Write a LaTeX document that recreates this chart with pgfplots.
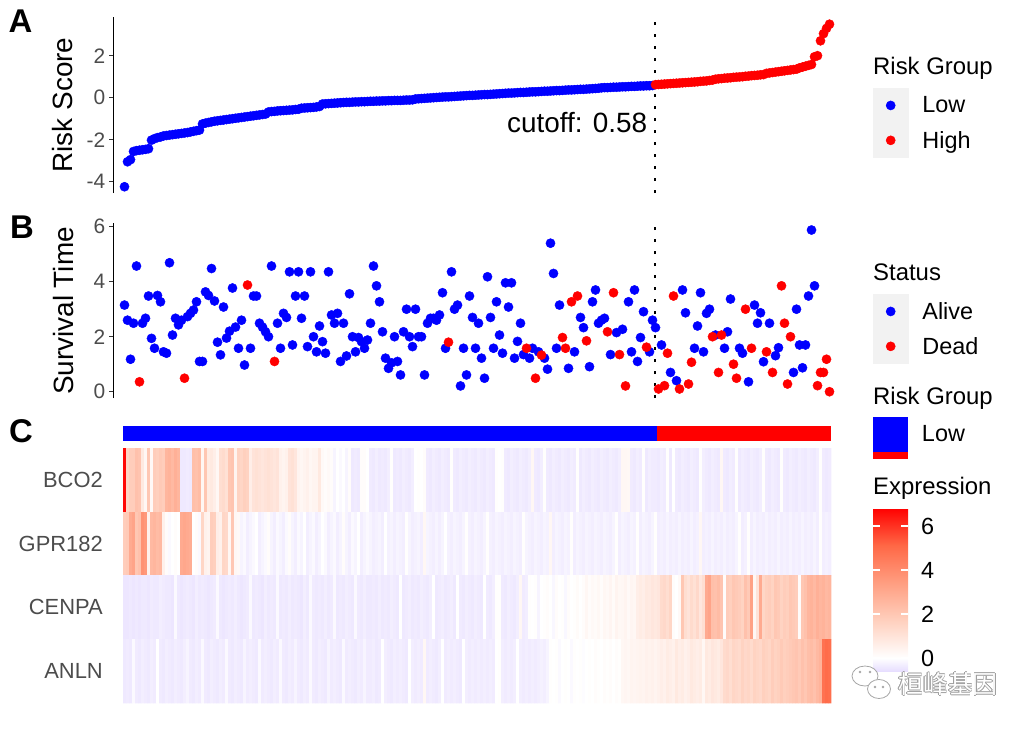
\documentclass[border=0pt]{standalone}
\usepackage{pgfplots}
\pgfplotsset{compat=1.18}
\usepackage{pgfplotstable}
\usepackage{fontspec}
\setmainfont{Liberation Sans}
\newfontfamily\cjk{Noto Sans CJK SC}

\definecolor{axtxt}{gray}{0.3}
\definecolor{tickc}{gray}{0.2}
\definecolor{keybg}{gray}{0.949}

\newcommand{\fTitle}{\fontsize{28}{32}\selectfont}
\newcommand{\fTick}{\fontsize{21}{24}\selectfont}
\newcommand{\fLeg}{\fontsize{23.5}{27}\selectfont}
\newcommand{\fLegT}{\fontsize{24}{28}\selectfont}
\newcommand{\fGene}{\fontsize{22}{26}\selectfont}
\newcommand{\fPanel}{\fontsize{33}{36}\selectfont\bfseries}

\pgfplotsset{colormap={expr}{rgb255(0pt)=(231,222,255) rgb255(59pt)=(255,255,255) rgb255(229.5pt)=(255,208,190) rgb255(400pt)=(255,158,129) rgb255(570.5pt)=(255,104,70) rgb255(741pt)=(255,0,0)}}

\pgfplotsset{
 panel/.style={scale only axis, width=727bp, xmin=-2.667, xmax=239.667,
   axis x line=none, axis y line*=left, xtick=\empty,
   y axis line style={black, line width=1.1bp},
   tick align=outside, major tick length=4.5bp,
   ytick style={tickc, line width=1.1bp},
   yticklabel style={font=\fTick, text=axtxt, inner sep=0pt, xshift=-3.5bp},
   clip=false, legend cell align=left,
   legend style={anchor=north west, draw=none, fill=none, inner sep=0pt, outer sep=0pt,
     row sep=0pt, column sep=14bp, font=\fLeg, nodes={inner sep=0pt}}},
 dotkey/.style={legend image code/.code={\fill[keybg] (0bp,-17.25bp) rectangle (35bp,17.25bp); \fill[#1] (17.5bp,0bp) circle (4.6bp);}},
 dots/.style={only marks, mark=*, mark size=4.6bp, color=#1, mark options={fill=#1, draw=#1}},
 hmrow/.style={scatter, only marks, mark=square*, mark size=1.55bp,
   scatter/use mapped color={draw=mapped color, fill=mapped color},
   mark options={yscale=20.6, line width=0.02pt}, point meta=explicit}
}

% Risk scores, sorted (rank 1..177 low, 178..236 high)
\pgfplotstableread[row sep=\\]{y\\-4.24\\-3.05\\-2.95\\-2.56\\-2.52\\-2.5\\-2.48\\-2.46\\-2.43\\-2.02\\-1.95\\-1.9\\-1.87\\-1.82\\-1.8\\-1.78\\-1.76\\-1.74\\-1.72\\-1.7\\-1.68\\-1.66\\-1.63\\-1.6\\-1.57\\-1.54\\-1.25\\-1.21\\-1.18\\-1.15\\-1.12\\-1.1\\-1.08\\-1.06\\-1.04\\-1.02\\-1.0\\-0.98\\-0.96\\-0.94\\-0.92\\-0.9\\-0.88\\-0.86\\-0.84\\-0.82\\-0.8\\-0.78\\-0.68\\-0.66\\-0.65\\-0.63\\-0.62\\-0.61\\-0.6\\-0.59\\-0.58\\-0.56\\-0.55\\-0.5\\-0.49\\-0.48\\-0.47\\-0.46\\-0.44\\-0.42\\-0.3\\-0.29\\-0.28\\-0.27\\-0.26\\-0.25\\-0.24\\-0.23\\-0.22\\-0.22\\-0.21\\-0.2\\-0.2\\-0.19\\-0.19\\-0.18\\-0.17\\-0.17\\-0.16\\-0.16\\-0.15\\-0.15\\-0.14\\-0.14\\-0.13\\-0.13\\-0.13\\-0.12\\-0.11\\-0.11\\-0.1\\-0.06\\-0.05\\-0.04\\-0.03\\-0.02\\-0.01\\0.0\\0.01\\0.02\\0.03\\0.04\\0.04\\0.05\\0.06\\0.07\\0.08\\0.09\\0.1\\0.11\\0.11\\0.12\\0.13\\0.14\\0.15\\0.15\\0.16\\0.17\\0.18\\0.19\\0.2\\0.21\\0.22\\0.22\\0.23\\0.24\\0.25\\0.25\\0.26\\0.27\\0.28\\0.28\\0.29\\0.3\\0.31\\0.31\\0.32\\0.33\\0.34\\0.34\\0.35\\0.36\\0.37\\0.37\\0.38\\0.39\\0.4\\0.4\\0.41\\0.42\\0.43\\0.44\\0.45\\0.47\\0.48\\0.48\\0.49\\0.5\\0.5\\0.51\\0.52\\0.52\\0.53\\0.54\\0.54\\0.55\\0.56\\0.56\\0.57\\0.57\\0.58\\}\riskLow
\pgfplotstableread[row sep=\\]{y\\0.62\\0.63\\0.64\\0.65\\0.66\\0.67\\0.68\\0.69\\0.7\\0.71\\0.72\\0.73\\0.74\\0.75\\0.76\\0.78\\0.79\\0.8\\0.82\\0.84\\0.88\\0.9\\0.91\\0.93\\0.94\\0.95\\0.97\\0.98\\0.99\\1.0\\1.02\\1.03\\1.05\\1.06\\1.07\\1.09\\1.1\\1.16\\1.18\\1.2\\1.22\\1.24\\1.26\\1.28\\1.3\\1.32\\1.34\\1.36\\1.42\\1.46\\1.5\\1.54\\1.58\\1.95\\2.0\\2.71\\3.05\\3.3\\3.5\\}\riskHigh

% Survival time by rank
\pgfplotstableread[row sep=\\]{i t\\1 3.15\\2 2.6\\3 1.18\\4 2.49\\5 4.57\\7 2.49\\8 2.67\\9 3.48\\10 1.94\\11 1.58\\12 3.5\\13 3.27\\14 1.45\\15 1.4\\16 4.69\\17 2.06\\18 2.67\\19 2.43\\20 2.6\\22 2.73\\23 2.85\\24 2.97\\25 3.27\\26 1.1\\27 1.1\\28 3.63\\29 3.5\\30 4.48\\31 3.3\\32 1.8\\33 1.34\\34 3.08\\35 1.95\\36 2.2\\37 3.77\\38 2.35\\39 1.58\\40 2.6\\41 0.97\\43 1.58\\44 3.48\\45 3.48\\46 2.49\\47 2.35\\48 2.18\\49 2.0\\50 4.57\\52 2.49\\53 1.58\\54 2.85\\55 2.7\\56 4.36\\57 1.7\\58 3.48\\59 4.36\\60 2.67\\61 3.48\\62 1.64\\63 4.36\\64 2.0\\65 1.45\\66 2.39\\67 1.82\\68 1.4\\69 4.36\\70 2.79\\71 2.49\\72 2.85\\73 1.1\\74 2.49\\75 1.3\\76 3.56\\77 2.0\\78 1.45\\79 1.97\\80 1.82\\81 1.58\\82 1.88\\83 2.49\\84 4.57\\85 3.85\\86 3.27\\87 2.18\\88 1.22\\89 0.85\\90 1.05\\91 2.0\\92 1.1\\93 0.61\\94 2.18\\95 3.0\\96 2.0\\97 1.64\\98 3.0\\99 2.0\\100 2.0\\101 0.61\\102 2.49\\103 2.67\\104 2.67\\105 2.6\\106 2.79\\107 3.6\\108 1.58\\110 4.36\\111 3.0\\112 3.15\\113 0.21\\114 1.58\\115 0.61\\116 3.48\\117 2.7\\118 1.58\\119 2.49\\120 1.22\\121 0.49\\122 4.18\\123 2.7\\124 1.58\\125 3.27\\126 2.06\\127 1.4\\128 3.96\\129 3.08\\130 3.96\\131 1.22\\132 1.83\\133 2.49\\134 1.35\\136 1.22\\137 1.58\\139 1.45\\141 1.22\\142 0.82\\143 5.4\\144 4.3\\145 1.58\\146 3.15\\149 0.85\\151 1.45\\153 2.7\\154 2.33\\156 0.91\\157 3.27\\158 3.7\\159 2.49\\160 2.6\\161 2.67\\163 1.35\\165 2.15\\167 2.27\\169 3.27\\170 1.45\\171 3.7\\172 1.1\\173 1.97\\174 2.91\\176 1.45\\177 2.6\\178 2.33\\180 1.7\\183 0.7\\185 0.4\\187 3.7\\188 2.87\\191 1.58\\192 2.39\\193 3.6\\194 1.45\\195 2.85\\196 3.0\\198 2.06\\201 1.58\\202 2.18\\203 3.37\\206 1.58\\207 1.4\\209 0.36\\211 3.15\\212 2.49\\213 2.87\\214 1.09\\216 2.49\\218 1.31\\219 1.6\\224 0.7\\225 3.0\\226 1.7\\227 0.87\\228 1.7\\229 3.48\\230 5.88\\231 3.85\\}\alive
\pgfplotstableread[row sep=\\]{i t\\6 0.36\\21 0.49\\42 3.88\\51 1.1\\109 1.8\\135 1.58\\138 0.49\\140 1.33\\147 1.97\\148 1.58\\150 3.27\\152 3.48\\155 1.85\\162 2.18\\164 3.6\\166 1.35\\168 0.21\\175 1.62\\179 0.1\\181 0.22\\182 1.4\\184 3.48\\186 0.1\\189 0.28\\190 1.07\\197 2.0\\199 0.7\\200 2.06\\204 1.0\\205 0.49\\208 3.0\\210 1.58\\215 1.45\\217 0.7\\220 3.85\\221 2.49\\222 0.28\\223 2.0\\232 0.22\\233 0.7\\234 0.7\\235 1.18\\236 0.0\\}\dead

% Expression by rank: b=BCO2 g=GPR182 c=CENPA a=ANLN
\pgfplotstableread{
i b g c a
1 6.7 1.8 -0.45 -0.4
2 1.5 1.9 -0.45 -0.35
3 1.8 3.0 -0.4 -0.4
4 1.8 3.2 -0.45 -0.1
5 2.2 2.0 -0.4 -0.35
6 2.1 2.2 -0.45 -0.4
7 0.8 3.8 -0.4 -0.3
8 0.3 3.6 -0.4 -0.35
9 2.0 0.5 -0.45 -0.4
10 0.2 2.5 -0.35 -0.3
11 1.8 2.6 -0.4 -0.35
12 1.7 2.4 -0.4 0.0
13 1.9 2.5 -0.3 -0.35
14 1.8 0.5 -0.35 -0.4
15 2.6 0.1 -0.4 -0.3
16 2.7 -0.1 -0.4 -0.35
17 2.5 0.0 -0.45 -0.4
18 2.8 0.1 -0.1 -0.3
19 2.6 0.0 -0.4 -0.35
20 -0.4 3.0 -0.45 -0.4
21 -0.4 3.1 -0.4 -0.3
22 -0.35 3.0 -0.35 -0.2
23 -0.4 2.9 -0.4 -0.35
24 2.3 0.0 -0.45 -0.4
25 2.2 0.1 -0.3 -0.3
26 2.4 -0.1 -0.4 -0.35
27 0.3 1.5 -0.35 -0.1
28 2.0 0.5 -0.4 -0.35
29 0.7 0.4 -0.45 -0.4
30 0.8 1.8 -0.4 -0.3
31 0.6 1.7 -0.35 -0.35
32 0.3 0.6 -0.1 -0.4
33 1.2 0.5 -0.4 -0.3
34 1.3 1.5 -0.45 -0.35
35 1.1 1.4 -0.4 -0.1
36 2.0 0.3 -0.35 -0.35
37 2.1 2.0 -0.4 -0.4
38 0.4 0.3 -0.3 -0.3
39 1.6 0.2 -0.4 -0.35
40 1.5 -0.2 -0.45 -0.4
41 1.7 -0.1 -0.4 -0.2
42 1.6 -0.3 -0.35 -0.35
43 0.6 -0.2 -0.1 -0.3
44 1.0 -0.1 -0.4 -0.35
45 1.1 0.0 -0.35 -0.4
46 1.0 -0.3 -0.4 -0.1
47 0.9 -0.2 -0.45 -0.35
48 1.0 -0.1 -0.3 -0.3
49 1.1 0.1 -0.4 -0.35
50 1.0 -0.2 -0.35 -0.4
51 0.9 -0.3 -0.4 -0.3
52 1.0 -0.1 -0.1 -0.35
53 0.5 -0.2 -0.4 -0.1
54 0.4 -0.3 -0.35 -0.35
55 0.5 -0.1 -0.4 -0.4
56 1.0 0.1 -0.3 -0.3
57 1.1 -0.2 -0.4 -0.35
58 0.9 -0.3 -0.35 -0.2
59 0.4 -0.1 -0.4 -0.35
60 0.3 -0.2 -0.45 -0.4
61 0.4 0.0 -0.3 -0.3
62 0.5 -0.3 -0.4 -0.35
63 0.3 -0.2 -0.1 -0.1
64 0.4 -0.1 -0.35 -0.35
65 0.4 -0.3 -0.4 -0.4
66 0.8 -0.2 -0.35 -0.3
67 0.2 0.0 -0.4 -0.35
68 0.1 -0.1 -0.3 -0.4
69 0.2 -0.3 -0.4 -0.2
70 0.1 -0.2 -0.35 -0.35
71 -0.2 -0.1 -0.1 -0.3
72 0.0 -0.3 -0.4 -0.35
73 -0.1 -0.2 -0.35 -0.4
74 0.0 0.1 -0.4 -0.1
75 -0.2 -0.2 -0.3 -0.35
76 0.1 -0.3 -0.35 -0.3
77 -0.4 -0.1 -0.4 -0.35
78 -0.35 -0.2 -0.1 -0.4
79 -0.4 0.0 -0.35 -0.3
80 0.1 -0.3 -0.4 -0.35
81 0.1 -0.2 -0.3 -0.2
82 0.0 -0.1 -0.4 -0.35
83 -0.35 -0.2 -0.4 -0.35
84 -0.4 -0.3 -0.35 -0.3
85 -0.3 -0.25 -0.4 -0.4
86 -0.4 -0.2 -0.3 -0.35
87 -0.35 -0.3 -0.4 0.0
88 -0.4 0.0 -0.35 -0.3
89 -0.3 -0.25 -0.4 -0.35
90 0.05 -0.2 -0.3 -0.4
91 -0.4 -0.3 -0.35 -0.3
92 -0.35 -0.2 -0.4 -0.35
93 -0.4 -0.25 0.0 -0.3
94 -0.3 -0.3 -0.4 -0.35
95 -0.35 0.05 -0.35 -0.4
96 -0.4 -0.2 -0.3 0.0
97 -0.3 -0.3 -0.4 -0.3
98 0.0 -0.25 -0.35 -0.35
99 0.05 -0.2 -0.4 -0.3
100 0.0 -0.3 -0.3 -0.35
101 0.1 0.3 -0.35 0.3
102 -0.35 -0.2 -0.4 -0.35
103 -0.4 -0.25 -0.3 -0.3
104 -0.3 -0.3 0.0 -0.35
105 -0.35 -0.2 -0.4 -0.4
106 -0.4 -0.3 -0.35 -0.3
107 -0.3 -0.2 -0.3 0.0
108 -0.35 0.0 -0.4 -0.35
109 -0.4 -0.25 -0.35 -0.3
110 0.05 -0.3 -0.3 -0.35
111 -0.35 -0.2 -0.4 -0.3
112 -0.4 -0.25 0.0 -0.35
113 -0.3 -0.3 -0.35 -0.4
114 -0.35 -0.2 -0.4 0.0
115 -0.4 0.05 -0.3 -0.3
116 -0.3 -0.25 -0.35 -0.35
117 -0.35 -0.3 -0.4 -0.3
118 -0.4 -0.2 -0.3 -0.35
119 -0.3 -0.25 -0.35 -0.3
120 -0.35 -0.3 -0.4 -0.35
121 -0.4 -0.2 0.0 -0.3
122 -0.3 0.05 -0.35 -0.35
123 -0.35 -0.25 -0.4 -0.3
124 -0.4 -0.3 -0.3 -0.35
125 0.05 -0.2 0.05 0.0
126 0.0 -0.25 0.05 0.05
127 0.05 -0.3 -0.35 -0.3
128 -0.35 -0.2 -0.4 -0.35
129 -0.4 -0.25 -0.3 -0.3
130 -0.3 -0.3 -0.35 -0.35
131 -0.35 -0.2 -0.4 -0.3
132 -0.4 -0.25 -0.3 0.0
133 -0.3 -0.3 0.3 -0.3
134 -0.35 0.05 -0.35 -0.35
135 -0.4 -0.2 -0.3 -0.3
136 -0.3 -0.25 0.05 -0.35
137 0.3 -0.3 0.0 -0.3
138 -0.35 -0.2 0.05 -0.35
139 -0.4 -0.25 -0.2 -0.3
140 -0.3 -0.3 0.0 -0.25
141 0.05 -0.2 0.05 -0.3
142 -0.35 -0.25 0.1 -0.2
143 -0.4 0.3 0.0 0.05
144 -0.3 -0.3 -0.15 0.0
145 -0.35 -0.2 0.1 0.05
146 -0.4 -0.25 0.0 -0.1
147 -0.3 -0.3 0.05 0.0
148 -0.35 -0.2 -0.15 0.05
149 -0.4 -0.25 0.1 0.0
150 -0.3 0.05 0.0 -0.1
151 -0.35 -0.3 0.05 0.05
152 0.05 -0.2 0.15 0.0
153 -0.4 -0.25 0.0 0.05
154 -0.3 -0.3 0.1 -0.05
155 -0.35 -0.2 0.3 0.0
156 -0.4 -0.25 0.1 0.05
157 -0.3 -0.3 0.2 0.0
158 -0.35 -0.2 0.15 0.1
159 -0.4 -0.25 0.25 0.05
160 -0.3 -0.3 0.1 0.0
161 -0.35 -0.2 0.3 0.1
162 -0.4 -0.25 0.2 0.05
163 -0.3 -0.3 0.35 0.1
164 -0.35 -0.2 0.15 0.0
165 -0.4 0.05 0.4 0.1
166 -0.3 -0.3 0.25 0.05
167 0.3 -0.2 0.3 0.3
168 0.3 -0.25 0.4 0.35
169 0.25 -0.3 0.2 0.3
170 -0.35 -0.2 0.35 0.4
171 -0.4 -0.25 0.3 0.35
172 -0.3 0.05 0.6 0.4
173 -0.35 -0.3 0.7 0.45
174 0.05 -0.2 0.6 0.4
175 -0.4 -0.25 0.8 0.5
176 -0.3 -0.3 0.75 0.45
177 -0.35 -0.2 0.9 0.5
178 -0.35 0.05 0.8 0.4
179 -0.4 -0.3 0.9 0.5
180 -0.3 -0.25 1.3 0.6
181 -0.35 -0.3 1.4 0.5
182 0.05 -0.2 1.2 0.7
183 -0.4 -0.3 1.5 0.6
184 0.0 -0.25 0.1 0.5
185 -0.35 -0.3 0.0 0.8
186 -0.4 -0.2 0.2 0.6
187 -0.3 -0.3 2.0 0.7
188 -0.35 -0.25 1.2 0.5
189 -0.4 -0.3 1.0 0.6
190 -0.3 -0.2 1.3 0.8
191 -0.35 -0.3 1.1 0.7
192 -0.4 -0.25 1.4 0.6
193 0.05 0.3 0.9 0.7
194 -0.3 -0.3 1.2 0.3
195 -0.35 -0.25 3.0 0.8
196 -0.4 -0.3 3.2 0.7
197 -0.3 -0.2 2.3 0.9
198 -0.35 -0.3 2.2 0.8
199 -0.4 -0.25 2.4 0.7
200 0.3 -0.3 2.1 0.9
201 -0.35 -0.2 0.1 1.3
202 -0.4 -0.3 1.8 1.4
203 -0.3 -0.25 1.7 1.2
204 -0.35 -0.3 2.0 1.5
205 0.05 -0.2 1.9 1.4
206 -0.4 0.05 1.8 1.3
207 -0.3 -0.3 1.6 1.6
208 -0.35 -0.25 2.2 1.4
209 -0.4 0.05 1.9 1.5
210 -0.3 -0.3 3.3 1.3
211 -0.35 -0.2 0.3 1.6
212 -0.4 -0.3 1.0 1.5
213 -0.3 -0.25 3.0 1.4
214 0.05 -0.3 1.5 1.7
215 -0.35 -0.2 1.7 1.6
216 -0.4 -0.3 1.8 1.5
217 -0.3 -0.25 1.6 1.8
218 -0.35 -0.3 2.0 1.6
219 -0.4 -0.2 1.9 1.7
220 0.05 -0.3 1.6 1.9
221 -0.35 -0.25 1.8 1.7
222 -0.4 -0.3 1.7 1.8
223 -0.3 -0.2 2.0 1.9
224 -0.35 -0.3 1.9 2.0
225 -0.4 -0.25 1.8 2.1
226 -0.3 -0.3 0.1 1.9
227 -0.35 -0.2 2.0 2.2
228 -0.4 -0.3 2.2 2.0
229 -0.3 -0.25 2.6 2.3
230 -0.35 -0.3 2.7 2.4
231 -0.4 -0.2 2.5 2.2
232 -0.3 -0.3 2.8 2.5
233 0.05 0.05 2.6 2.7
234 -0.35 -0.3 2.7 4.8
235 -0.4 -0.25 2.5 5.0
236 -0.35 -0.3 2.6 4.9
}\hm

\begin{document}
\begin{tikzpicture}
% ---------------- Panel A ----------------
\begin{axis}[panel, at={(113.5bp,-193bp)}, anchor=south west, height=176bp,
  ymin=-4.538, ymax=3.843, ytick={-4,-2,0,2}, yticklabels={-4,-2,0,2},
  legend style={at={(1.0447,0.5966)}}]
\addplot[dots=blue, dotkey=blue] table[x expr=\coordindex+1, y=y] {\riskLow};
\addlegendentry{Low}
\addplot[dots=red, dotkey=red] table[x expr=\coordindex+178, y=y] {\riskHigh};
\addlegendentry{High}
\addplot[black, line width=2.6bp, dash pattern=on 2.6bp off 9.4bp, forget plot] coordinates {(177.8,-4.538) (177.8,3.843)};
\node[anchor=east, font=\fTitle, inner sep=0pt] at (axis cs:175.3,-1.2) {cutoff: 0.58};
\end{axis}

% ---------------- Panel B ----------------
\begin{axis}[panel, at={(113.5bp,-398bp)}, anchor=south west, height=175bp,
  ymin=-0.229, ymax=6.135, ytick={0,2,4,6}, yticklabels={0,2,4,6},
  legend style={at={(1.0447,0.5943)}}]
\addplot[dots=blue, dotkey=blue] table[x=i, y=t] {\alive};
\addlegendentry{Alive}
\addplot[dots=red, dotkey=red] table[x=i, y=t] {\dead};
\addlegendentry{Dead}
\addplot[black, line width=2.6bp, dash pattern=on 2.6bp off 9.4bp, forget plot] coordinates {(177.8,-0.229) (177.8,6.135)};
\end{axis}

% ---------------- Risk group bar ----------------
\begin{axis}[at={(123bp,-441bp)}, anchor=south west, scale only axis, width=708bp, height=15.3bp,
  xmin=0.5, xmax=236.5, ymin=0, ymax=1, hide axis, clip=false,
  legend cell align=left,
  legend style={at={(1.0593,1.588)}, anchor=north west, draw=none, fill=none, inner sep=0pt, outer sep=0pt,
     column sep=14bp, font=\fLeg, nodes={inner sep=0pt}}]
\addplot[fill=blue, draw=none, legend image code/.code={\fill[blue] (0bp,-17.5bp) rectangle (35bp,17.5bp); \fill[red] (0bp,-25.1bp) rectangle (35bp,-17.5bp);}] coordinates {(0.5,1) (178.5,1)} \closedcycle;
\addlegendentry{Low}
\addplot[fill=red, draw=none, forget plot] coordinates {(178.5,1) (236.5,1)} \closedcycle;
\end{axis}

% ---------------- Heatmap ----------------
\begin{axis}[at={(123bp,-703bp)}, anchor=south west, scale only axis, width=708bp, height=255bp,
  xmin=0.5, xmax=236.5, ymin=0.5, ymax=4.5,
  axis line style={draw=none}, xtick=\empty, ytick={1,2,3,4},
  yticklabels={ANLN,CENPA,GPR182,BCO2}, major tick length=0pt, ytick style={draw=none},
  yticklabel style={font=\fGene, text=axtxt, inner sep=0pt, xshift=-20bp},
  colormap name=expr, point meta min=-0.59, point meta max=6.82,
  colorbar, colorbar/width=35bp,
  colorbar style={at={(parent axis.north east)}, anchor=north west, xshift=33.5bp, yshift=-60bp,
     scale only axis, width=35bp, height=163bp,
     ytick={0,2,4,6}, yticklabels={0,2,4,6}, yticklabel pos=right, ytick pos=both,
     tick align=inside, major tick length=7bp, ytick style={white, line width=1.2bp},
     axis line style={draw=none},
     yticklabel style={font=\fLeg, text=black, inner sep=0pt, xshift=13bp}}]
\addplot[hmrow] table[x=i, y expr=4, meta=b] {\hm};
\addplot[hmrow] table[x=i, y expr=3, meta=g] {\hm};
\addplot[hmrow] table[x=i, y expr=2, meta=c] {\hm};
\addplot[hmrow] table[x=i, y expr=1, meta=a] {\hm};
\end{axis}

% ---------------- Texts ----------------
\node[font=\fPanel, inner sep=0pt] at (20.5bp,-21.5bp) {A};
\node[font=\fPanel, inner sep=0pt] at (22bp,-227.5bp) {B};
\node[font=\fPanel, inner sep=0pt] at (21bp,-431.5bp) {C};
\node[font=\fTitle, rotate=90, inner sep=0pt] at (63bp,-105bp) {Risk Score};
\node[font=\fTitle, rotate=90, inner sep=0pt] at (63.5bp,-311bp) {Survival Time};
\node[font=\fLegT, anchor=base west, inner sep=0pt] at (873bp,-74bp) {Risk Group};
\node[font=\fLegT, anchor=base west, inner sep=0pt] at (873bp,-280bp) {Status};
\node[font=\fLegT, anchor=base west, inner sep=0pt] at (873bp,-404bp) {Risk Group};
\node[font=\fLegT, anchor=base west, inner sep=0pt] at (873bp,-494bp) {Expression};

% ---------------- Watermark ----------------
\draw[gray!70, fill=white, line width=0.8bp] (865bp,-676bp) ellipse (13bp and 10bp);
\draw[gray!70, fill=white, line width=0.8bp] (879bp,-689bp) ellipse (11.5bp and 9.5bp);
\fill[gray!70] (860bp,-672bp) circle (1.4bp) (870bp,-672bp) circle (1.4bp);
\fill[gray!70] (875bp,-687bp) circle (1.3bp) (883bp,-687bp) circle (1.3bp);
\foreach \dx/\dy in {0.6/0,-0.6/0,0/0.6,0/-0.6,0.45/0.45,-0.45/0.45,0.45/-0.45,-0.45/-0.45}{
  \node[text=gray!75, anchor=west, inner sep=0pt, font=\cjk\fontsize{25}{28}\selectfont, xshift=\dx bp, yshift=\dy bp] at (898bp,-684bp) {桓峰基因};
}
\node[text=white, anchor=west, inner sep=0pt, font=\cjk\fontsize{25}{28}\selectfont] at (898bp,-684bp) {桓峰基因};

\pgfresetboundingbox
\useasboundingbox (0,0) rectangle (1031bp,-730bp);
\end{tikzpicture}
\end{document}
